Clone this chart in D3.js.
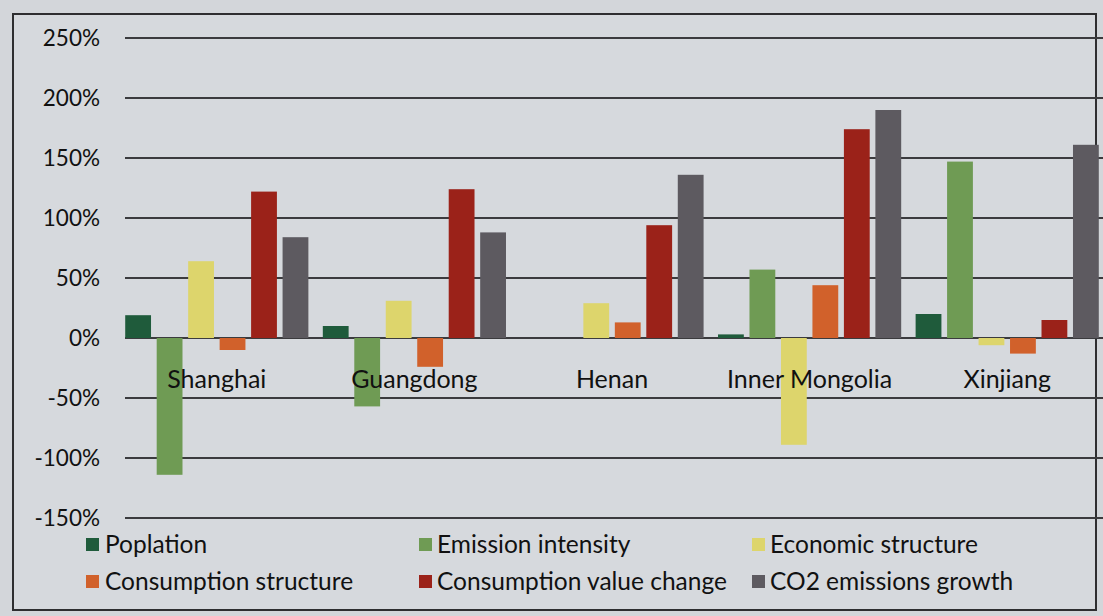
<!DOCTYPE html>
<html>
<head>
<meta charset="utf-8">
<script src="https://cdn.jsdelivr.net/npm/d3@7"></script>
<style>
  html, body { margin: 0; padding: 0; background: #d3d6da; }
  svg { display: block; }
  text { font-family: Lato, "Open Sans", sans-serif; fill: #111111; }
</style>
</head>
<body>
<svg id="chart" width="1103" height="616"></svg>
<script>
// Provinces (x categories)
const categories = ["Shanghai", "Guangdong", "Henan", "Inner Mongolia", "Xinjiang"];

// Driving factors (series), in legend order
const seriesNames = ["Poplation", "Emission intensity", "Economic structure",
                     "Consumption structure", "Consumption value change", "CO2 emissions growth"];

// Contribution of each factor, in percent, per province
const population             = [19, 10, 0, 3, 20];
const emissionIntensity      = [-114, -57, 0, 57, 147];
const economicStructure      = [64, 31, 29, -89, -6];
const consumptionStructure   = [-10, -24, 13, 44, -13];
const consumptionValueChange = [122, 124, 94, 174, 15];
const co2EmissionsGrowth     = [84, 88, 136, 190, 161];

// Value axis ticks
const yTicks = [250, 200, 150, 100, 50, 0, -50, -100, -150];

const seriesValues = [population, emissionIntensity, economicStructure,
                      consumptionStructure, consumptionValueChange, co2EmissionsGrowth];
const seriesColors = ["#1f5b3b", "#6f9b54", "#ddd56c", "#d1612b", "#9b2219", "#5d5a60"];

const svg = d3.select("#chart");

// Outer chart frame
svg.append("rect")
  .attr("x", 13).attr("y", 14)
  .attr("width", 1083).attr("height", 596)
  .attr("fill", "#d6d9dd")
  .attr("stroke", "#2e2e30")
  .attr("stroke-width", 2);

const y = d3.scaleLinear().domain([-150, 250]).range([518, 38]);

const x0 = d3.scaleBand()
  .domain(categories)
  .range([118, 1106])
  .paddingInner(0.073)
  .paddingOuter(0.0365);

const x1 = d3.scaleBand()
  .domain(seriesNames)
  .range([0, x0.bandwidth()])
  .paddingInner(0.18);

// Horizontal gridlines
svg.append("g")
  .selectAll("line")
  .data(yTicks)
  .join("line")
  .attr("x1", 125).attr("x2", 1103)
  .attr("y1", d => y(d)).attr("y2", d => y(d))
  .attr("stroke", "#3b3b3e")
  .attr("stroke-width", 2);

// Value axis labels
svg.append("g")
  .selectAll("text")
  .data(yTicks)
  .join("text")
  .attr("x", 100)
  .attr("y", d => y(d))
  .attr("dy", "0.36em")
  .attr("text-anchor", "end")
  .style("font-size", "22.5px")
  .text(d => d + "%");

// Bars
const rows = [];
categories.forEach((c, ci) => {
  seriesNames.forEach((s, si) => {
    rows.push({ category: c, series: s, value: seriesValues[si][ci], color: seriesColors[si] });
  });
});

svg.append("g")
  .selectAll("rect")
  .data(rows)
  .join("rect")
  .attr("x", d => x0(d.category) + x1(d.series))
  .attr("width", x1.bandwidth())
  .attr("y", d => y(Math.max(0, d.value)))
  .attr("height", d => Math.abs(y(d.value) - y(0)))
  .attr("fill", d => d.color);

// Category labels, drawn over the bars just below the zero line
svg.append("g")
  .selectAll("text")
  .data(categories)
  .join("text")
  .attr("x", d => x0(d) + x0.bandwidth() / 2)
  .attr("y", 388)
  .attr("text-anchor", "middle")
  .style("font-size", "25px")
  .text(d => d);

// Legend: three columns, two rows
const legendCols = [{ sw: 86, tx: 105 }, { sw: 419, tx: 437 }, { sw: 752, tx: 770 }];
const legendRows = [553, 590];
const legend = svg.append("g")
  .selectAll("g")
  .data(seriesNames)
  .join("g")
  .attr("transform", (d, i) => {
    const col = legendCols[i % 3];
    const row = legendRows[Math.floor(i / 3)];
    return `translate(${col.sw},${row})`;
  });

legend.append("rect")
  .attr("x", 0).attr("y", -15)
  .attr("width", 13).attr("height", 13)
  .attr("fill", (d, i) => seriesColors[i]);

legend.append("text")
  .attr("x", (d, i) => legendCols[i % 3].tx - legendCols[i % 3].sw)
  .attr("y", 0)
  .style("font-size", "24.5px")
  .text(d => d);
</script>
</body>
</html>
